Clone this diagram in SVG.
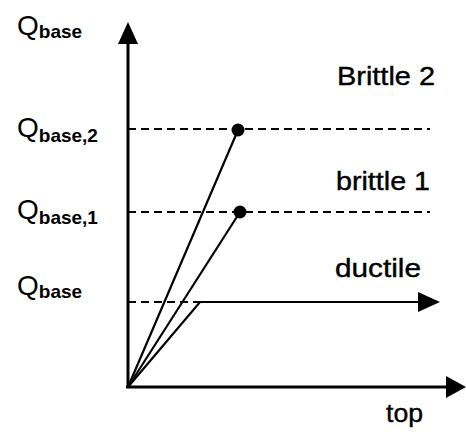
<svg xmlns="http://www.w3.org/2000/svg" width="466" height="432" viewBox="0 0 466 432">
<style>
.q{font-family:"Liberation Sans",Arial,sans-serif;font-size:28px;fill:#000}
.s{font-family:"Liberation Sans",Arial,sans-serif;font-size:19px;font-weight:bold;fill:#000}
.l{font-family:"Liberation Sans",Arial,sans-serif;font-size:26px;fill:#000;stroke:#000;stroke-width:0.4}
.ax{stroke:#000;stroke-width:3;fill:none}
.ln{stroke:#000;stroke-width:2.2;fill:none}
.da{stroke:#000;stroke-width:2;fill:none;stroke-dasharray:8,5}
</style>
<rect width="466" height="432" fill="#fff"/>
<g id="connectors">
<line class="da" x1="128" y1="129" x2="430" y2="129"/>
<line class="da" x1="128" y1="212" x2="430" y2="212"/>
<line class="da" x1="128" y1="302" x2="200" y2="302"/>
<line class="ln" x1="128" y1="387" x2="238" y2="130"/>
<line class="ln" x1="128" y1="387" x2="240" y2="212"/>
<polyline class="ln" points="128,387 200,302 420,302"/>
<polygon points="440,302 418,292 418,312" fill="#000"/>
<line class="ax" x1="128" y1="388" x2="128" y2="40"/>
<polygon points="128,22 118,44 138,44" fill="#000"/>
<line class="ax" x1="126" y1="387" x2="448" y2="387"/>
<polygon points="466,387 446,376 446,398" fill="#000"/>
</g>
<g id="dot2"><circle cx="238" cy="130" r="6.5" fill="#000"/></g>
<g id="dot1"><circle cx="240" cy="212" r="6.5" fill="#000"/></g>
<g id="label-qbase-top"><text x="17" y="35"><tspan class="q">Q</tspan><tspan class="s" dy="3">base</tspan></text></g>
<g id="label-qbase2"><text x="17" y="137"><tspan class="q">Q</tspan><tspan class="s" dy="5">base,2</tspan></text></g>
<g id="label-qbase1"><text x="17" y="219"><tspan class="q">Q</tspan><tspan class="s" dy="5">base,1</tspan></text></g>
<g id="label-qbase"><text x="17" y="295"><tspan class="q">Q</tspan><tspan class="s" dy="3">base</tspan></text></g>
<g id="label-brittle2"><text class="l" x="337" y="85" textLength="98" lengthAdjust="spacingAndGlyphs">Brittle 2</text></g>
<g id="label-brittle1"><text class="l" x="336" y="190" textLength="94" lengthAdjust="spacingAndGlyphs">brittle 1</text></g>
<g id="label-ductile"><text class="l" x="335" y="277" textLength="86" lengthAdjust="spacingAndGlyphs">ductile</text></g>
<g id="label-top"><text class="l" x="386" y="422" textLength="37" lengthAdjust="spacingAndGlyphs">top</text></g>
</svg>
